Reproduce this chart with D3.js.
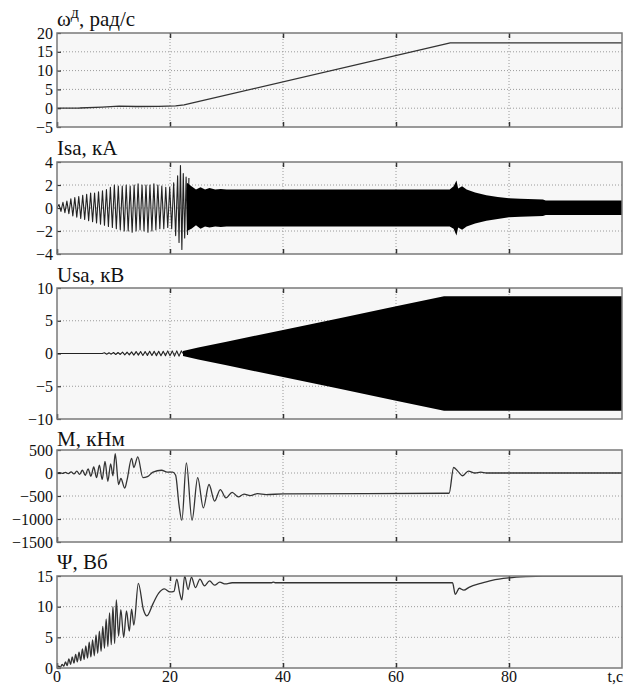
<!DOCTYPE html>
<html><head><meta charset="utf-8">
<script src="https://cdn.jsdelivr.net/npm/d3@7"></script>
<style>
body{margin:0;background:#fff;}
svg{display:block;}
svg text{font-family:"Liberation Serif","DejaVu Serif","Times New Roman",serif !important;fill:#111;}
</style></head>
<body><svg id="c" width="625" height="687"></svg>
<script>
// ---------------- DATA ----------------
const xTicks = [0, 20, 40, 60, 80];
const xTickLabels = ["0", "20", "40", "60", "80"];
const xAxisLabel = "t,c";

const omegaTicks = [20, 15, 10, 5, 0, -5];
const isaTicks = [4, 2, 0, -2, -4];
const usaTicks = [10, 5, 0, -5, -10];
const mTicks = [500, 0, -500, -1000, -1500];
const psiTicks = [15, 10, 5, 0];

// ω (rad/s): [t, value]
const omegaData = [[0,0],[4,0.05],[8,0.3],[11,0.55],[14,0.45],[18,0.5],[21,0.6],[22.5,0.9],[24,1.4],[69.6,17.4],[100,17.4]];

// Isa (kA): visible oscillation extrema before the dense region
const isaOsc = [[0,0],[0.35,0.3],[0.7,-0.3],[1.05,0.5],[1.4,-0.4],[1.75,0.6],[2.1,-0.5],[2.45,0.8],[2.8,-0.7],[3.15,0.9],[3.5,-0.8],[3.85,1.0],[4.2,-0.9],[4.55,1.1],[4.9,-1.0],[5.25,1.2],[5.6,-1.1],[5.95,1.3],[6.3,-1.2],[6.65,1.3],[7.0,-1.3],[7.35,1.4],[7.7,-1.4],[8.05,1.5],[8.4,-1.5],[8.75,1.6],[9.1,-1.6],[9.45,1.8],[9.8,-1.7],[10.15,2.0],[10.5,-1.8],[10.85,1.9],[11.2,-1.9],[11.55,1.9],[11.9,-2.0],[12.25,2.0],[12.6,-2.0],[12.95,1.9],[13.3,-2.1],[13.65,2.0],[14.0,-2.0],[14.35,2.1],[14.7,-1.9],[15.05,2.0],[15.4,-2.0],[15.75,2.0],[16.1,-2.1],[16.45,2.0],[16.8,-2.0],[17.15,2.1],[17.5,-1.9],[17.85,2.0],[18.2,-1.8],[18.55,1.9],[18.9,-1.8],[19.25,1.8],[19.6,-1.7],[19.95,1.8],[20.3,-1.8],[20.65,2.2],[21.0,-2.4],[21.35,2.8],[21.6,-3.0],[21.85,3.7],[22.1,-3.6],[22.35,3.0],[22.6,-2.6],[22.85,2.7],[23.1,-2.3],[23.35,2.6]];
// Isa dense region envelope: [t, upper, lower]
const isaEnv = [[23.0,2.2,-2.0],[23.8,1.9,-1.8],[24.6,1.6,-1.5],[25.4,1.8,-1.8],[26.2,1.6,-1.6],[27.0,1.75,-1.7],[28,1.6,-1.6],[29,1.65,-1.65],[30,1.6,-1.6],[69.5,1.6,-1.6],[70.2,1.9,-1.8],[70.7,2.4,-2.4],[71.0,1.7,-1.7],[71.7,1.9,-1.9],[72.5,1.6,-1.6],[74,1.35,-1.35],[76,1.1,-1.1],[78,0.95,-0.95],[80,0.85,-0.8],[82,0.8,-0.75],[86,0.75,-0.7],[86.5,0.65,-0.6],[100,0.65,-0.6]];

// Usa (kV): small early wiggle extrema, then dense envelope
const usaOsc = [[0,0],[8,0],[8.4,0.1],[8.8,-0.1],[9.2,0.1],[9.6,-0.1],[10,0.15],[10.4,-0.15],[10.8,0.15],[11.2,-0.15],[11.6,0.2],[12,-0.2],[12.4,0.2],[12.8,-0.2],[13.2,0.25],[13.6,-0.25],[14,0.3],[14.4,-0.25],[14.8,0.3],[15.2,-0.3],[15.6,0.3],[16,-0.3],[16.4,0.35],[16.8,-0.3],[17.2,0.35],[17.6,-0.35],[18,0.35],[18.4,-0.35],[18.8,0.35],[19.2,-0.35],[19.6,0.4],[20,-0.35],[20.4,0.4],[20.8,-0.4],[21.2,0.4],[21.6,-0.4],[22,0.4],[22.3,0]];
const usaEnv = [[22.3,0.4,-0.4],[25,0.9,-0.9],[30,1.8,-1.8],[40,3.6,-3.6],[50,5.4,-5.4],[60,7.2,-7.2],[68.5,8.75,-8.75],[100,8.75,-8.75]];

// M (kN·m)
const mData = [[0,0],[0.5,10],[1,-10],[1.5,15],[2,-15],[2.5,25],[3,-20],[3.5,40],[4,-30],[4.5,60],[5,-50],[5.5,90],[6,-70],[6.5,130],[7,-100],[7.5,170],[8,-140],[8.5,250],[9,-180],[9.5,200],[9.9,-60],[10.3,420],[10.9,-250],[11.3,-120],[12,-330],[12.4,-150],[13.2,320],[13.6,120],[14.3,350],[15.2,-100],[16,-80],[17,20],[18.5,60],[19.5,20],[20.5,20],[21,-50],[21.6,-700],[22.1,-1030],[22.9,220],[23.9,-1030],[24.9,-100],[25.9,-760],[26.9,-250],[27.9,-610],[28.9,-360],[29.9,-540],[31,-420],[32.1,-520],[33.1,-460],[34.2,-490],[35.5,-450],[37,-470],[40,-455],[69.4,-440],[70.2,120],[71.0,30],[71.8,-60],[72.8,40],[74,0],[75,20],[76,0],[100,0]];

// Ψ (Wb)
const psiData = [[0,0],[0.3,0.3],[0.6,0.1],[0.9,0.6],[1.2,0.3],[1.5,1.0],[1.8,0.4],[2.1,1.5],[2.4,0.6],[2.7,1.8],[3.0,0.8],[3.3,2.2],[3.6,1.0],[3.9,2.6],[4.2,1.2],[4.5,3.1],[4.8,1.4],[5.1,3.6],[5.4,1.6],[5.7,4.2],[6.0,1.8],[6.3,4.6],[6.6,2.0],[6.9,5.4],[7.2,2.4],[7.5,6.0],[7.8,2.7],[8.1,6.8],[8.4,3.2],[8.7,8.0],[9.0,3.5],[9.3,9.0],[9.6,3.8],[9.9,10.0],[10.2,4.0],[10.5,11.1],[10.9,5.2],[11.3,9.5],[11.8,5.0],[12.3,9.3],[12.8,6.0],[13.2,9.6],[13.6,7.0],[14.4,13.8],[15.3,9.5],[15.9,8.5],[17.0,10.5],[18.0,12.2],[19.0,12.9],[20.0,12.4],[20.7,12.5],[21.2,14.5],[21.7,12.3],[22.1,11.1],[22.6,15.0],[23.2,12.8],[23.8,14.8],[24.5,13.1],[25.3,14.5],[26.1,13.4],[27.0,14.2],[27.9,13.5],[28.8,14.0],[29.8,13.7],[31,13.9],[38,13.9],[38.3,14.0],[38.6,13.9],[70.0,13.9],[70.5,12.0],[71.2,13.0],[72.0,12.7],[73,13.2],[75,13.8],[77,14.3],[80,14.7],[83,14.9],[86,15.0],[100,15.0]];

// ---------------- DRAW ----------------
const FONT = '"Liberation Serif","DejaVu Serif","Times New Roman",serif';
const svg = d3.select("#c");
const x = d3.scaleLinear().domain([0, 100]).range([57, 622]);

const panels = [
  {top:33, bottom:127, dom:[-5,20], ticks:omegaTicks, grid:[15,10,5,0], title:"omega", ty:26},
  {top:162, bottom:254, dom:[-4,4], ticks:isaTicks, grid:[2,0,-2], title:"Isa, кА", ty:155},
  {top:288, bottom:419, dom:[-10,10], ticks:usaTicks, grid:[5,0,-5], title:"Usa, кВ", ty:282},
  {top:450, bottom:542, dom:[-1500,500], ticks:mTicks, grid:[0,-500,-1000], title:"M, кНм", ty:446},
  {top:576, bottom:668, dom:[0,15], ticks:psiTicks, grid:[10,5], title:"Ψ, Вб", ty:569}
];

panels.forEach((p, i) => {
  const y = d3.scaleLinear().domain(p.dom).range([p.bottom, p.top]);
  p.y = y;
  const g = svg.append("g");
  g.append("rect").attr("x", x(0)).attr("y", p.top).attr("width", x(100)-x(0)).attr("height", p.bottom-p.top)
    .attr("fill", "#f7f7f7");
  g.selectAll(".hg").data(p.grid).enter().append("line")
    .attr("x1", x(0)).attr("x2", x(100)).attr("y1", d=>y(d)).attr("y2", d=>y(d))
    .attr("stroke", "#9a9a9a").attr("stroke-width", 1).attr("stroke-dasharray", "1,2");
  g.selectAll(".vg").data(xTicks.filter(d=>d>0)).enter().append("line")
    .attr("x1", d=>x(d)).attr("x2", d=>x(d)).attr("y1", p.top).attr("y2", p.bottom)
    .attr("stroke", "#9a9a9a").attr("stroke-width", 1).attr("stroke-dasharray", "1,2");
  const ya = g.append("g").attr("transform", `translate(${x(0)},0)`)
    .call(d3.axisLeft(y).tickValues(p.ticks).tickSize(-4).tickPadding(4).tickFormat(d3.format("d")));
  ya.attr("font-family", FONT);
  ya.select(".domain").remove();
  ya.selectAll(".tick line").attr("stroke", "#333").attr("stroke-width", 1.2);
  ya.selectAll(".tick text").attr("font-size", 16).attr("fill", "#111");
  const xt = g.append("g").attr("transform", `translate(0,${p.top})`)
    .call(d3.axisTop(x).tickValues(xTicks.filter(d=>d>0)).tickSize(-5).tickFormat(""));
  xt.select(".domain").remove();
  xt.selectAll(".tick line").attr("stroke", "#333").attr("stroke-width", 1.5);
  const xb = g.append("g").attr("transform", `translate(0,${p.bottom})`)
    .call(d3.axisBottom(x).tickValues(xTicks).tickSize(-5).tickFormat(""));
  xb.select(".domain").remove();
  xb.selectAll(".tick line").attr("stroke", "#333").attr("stroke-width", 1.5);
  p.g = g;
  const t = svg.append("text").attr("x", 57).attr("y", p.ty)
    .attr("font-family", FONT).attr("font-size", 21).attr("fill", "#111");
  if (p.title === "omega") {
    t.append("tspan").text("ω");
    t.append("tspan").attr("dy", -8).attr("font-size", 16).text("д");
    t.append("tspan").attr("dy", 8).text(", рад/с");
  } else {
    t.text(p.title);
  }
});

svg.append("g").selectAll("text").data(xTicks).enter().append("text")
  .attr("x", d=>x(d)).attr("y", 682).attr("text-anchor", "middle")
  .attr("font-family", FONT).attr("font-size", 16).attr("fill", "#111")
  .text((d,k)=>xTickLabels[k]);
svg.append("text").attr("x", 623).attr("y", 682).attr("text-anchor", "end")
  .attr("font-family", FONT).attr("font-size", 16).attr("fill", "#111").text(xAxisLabel);

function clip(p, id) {
  svg.append("clipPath").attr("id", id).append("rect")
    .attr("x", x(0)).attr("y", p.top).attr("width", x(100)-x(0)).attr("height", p.bottom-p.top);
  return `url(#${id})`;
}

function drawLine(p, data, id, color, w, curve) {
  const line = d3.line().x(d=>x(d[0])).y(d=>p.y(d[1])).curve(curve || d3.curveLinear);
  p.g.append("path").attr("d", line(data)).attr("fill", "none").attr("stroke", color)
    .attr("stroke-width", w).attr("stroke-linejoin", "round").attr("clip-path", clip(p, id));
}
function drawBand(p, env, id) {
  const area = d3.area().x(d=>x(d[0])).y0(d=>p.y(d[2])).y1(d=>p.y(d[1]));
  p.g.append("path").attr("d", area(env)).attr("fill", "#000").attr("clip-path", clip(p, id));
}

drawLine(panels[0], omegaData, "c0", "#333", 1.3);
drawLine(panels[1], isaOsc, "c1", "#222", 1.1);
drawBand(panels[1], isaEnv, "c1b");
drawLine(panels[2], usaOsc, "c2", "#222", 1.1);
drawBand(panels[2], usaEnv, "c2b");
drawLine(panels[3], mData, "c3", "#333", 1.3, d3.curveMonotoneX);
drawLine(panels[4], psiData, "c4", "#333", 1.3, d3.curveMonotoneX);

panels.forEach(p => {
  svg.append("rect").attr("x", x(0)).attr("y", p.top).attr("width", x(100)-x(0)).attr("height", p.bottom-p.top)
    .attr("fill", "none").attr("stroke", "#7a7a7a").attr("stroke-width", 1.5);
});
</script></body></html>
